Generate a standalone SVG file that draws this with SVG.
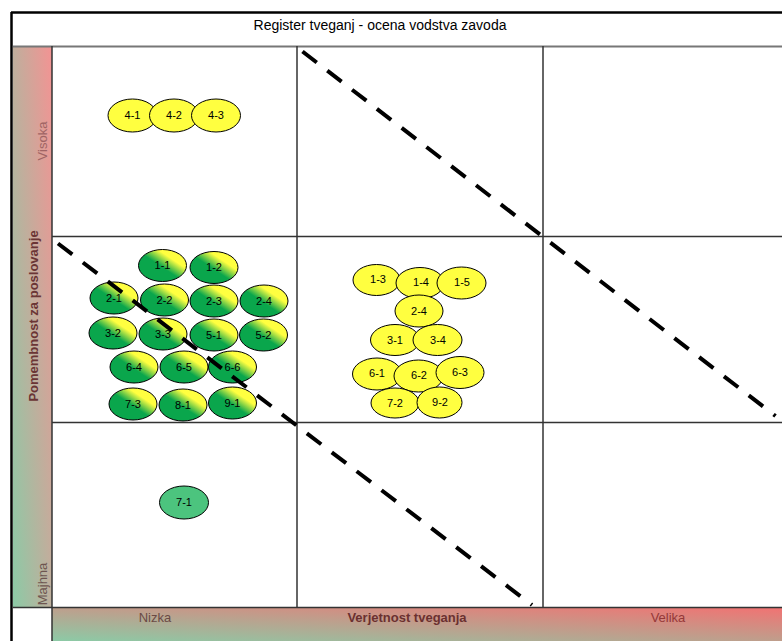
<svg xmlns="http://www.w3.org/2000/svg" width="782" height="641" viewBox="0 0 782 641">
<defs>
<linearGradient id="gLeft" x1="0" y1="1" x2="1" y2="0"><stop offset="0" stop-color="#8ccaa6"/><stop offset="1" stop-color="#f39393"/></linearGradient>
<linearGradient id="gBot" x1="0" y1="1" x2="1" y2="0"><stop offset="0" stop-color="#8ccaa6"/><stop offset="1" stop-color="#f27272"/></linearGradient>
<linearGradient id="gNode" x1="0" y1="1" x2="1" y2="0"><stop offset="0" stop-color="#0aa64c"/><stop offset="0.47" stop-color="#0aa64c"/><stop offset="0.7" stop-color="#ffff40"/><stop offset="1" stop-color="#ffff40"/></linearGradient>
</defs>
<style>
text{font-family:"Liberation Sans",Arial,sans-serif;}
.lbl{font-size:11px;fill:#000;text-anchor:middle;}
.y{fill:#ffff40;stroke:#000;stroke-width:1;}
.g{fill:url(#gNode);stroke:#000;stroke-width:1;}
.lg{fill:#4cc47e;stroke:#000;stroke-width:1;}
.grid{stroke:#333;stroke-width:1.5;fill:none;}
.dash{stroke:#000;stroke-width:4;stroke-dasharray:18 13.3;fill:none;}
.ax{font-size:13px;text-anchor:middle;}
</style>
<rect x="0" y="0" width="782" height="641" fill="#fff"/>
<g id="frame">
<rect x="13" y="46" width="39" height="561" fill="url(#gLeft)"/>
<rect x="52" y="607" width="730" height="34" fill="url(#gBot)"/>
<line x1="11" y1="12.5" x2="782" y2="12.5" stroke="#000" stroke-width="2.5"/>
<line x1="11.5" y1="12" x2="11.5" y2="641" stroke="#000" stroke-width="2.5"/>
<line x1="13" y1="46.5" x2="782" y2="46.5" stroke="#777" stroke-width="2"/>
<line class="grid" x1="52" y1="46" x2="52" y2="641"/>
<line class="grid" x1="297" y1="46" x2="297" y2="607"/>
<line class="grid" x1="543" y1="46" x2="543" y2="607"/>
<line class="grid" x1="52" y1="236.5" x2="782" y2="236.5"/>
<line class="grid" x1="52" y1="422.5" x2="782" y2="422.5"/>
<line class="grid" x1="13" y1="607.5" x2="782" y2="607.5"/>
<text x="380" y="30" style="font-size:14px;text-anchor:middle;fill:#000">Register tveganj - ocena vodstva zavoda</text>
<text class="ax" transform="translate(47,141) rotate(-90)" fill="#a06464">Visoka</text>
<text class="ax" transform="translate(38,316) rotate(-90)" fill="#6b3535" font-weight="bold">Pomembnost za poslovanje</text>
<text class="ax" transform="translate(47,584) rotate(-90)" fill="#6e5550">Majhna</text>
<text class="ax" x="155" y="622" fill="#6b4a45">Nizka</text>
<text class="ax" x="407" y="622" fill="#6b3030" font-weight="bold">Verjetnost tveganja</text>
<text class="ax" x="668" y="622" fill="#953838">Velika</text>
</g>
<g id="n4-1"><ellipse class="y" cx="132.5" cy="115.5" rx="24.5" ry="16.5"/><text class="lbl" x="132.5" y="119">4-1</text></g>
<g id="n4-2"><ellipse class="y" cx="174" cy="115.5" rx="24.5" ry="16.5"/><text class="lbl" x="174" y="119">4-2</text></g>
<g id="n4-3"><ellipse class="y" cx="216" cy="115.5" rx="24.5" ry="16.5"/><text class="lbl" x="216" y="119">4-3</text></g>
<g id="n1-1"><ellipse class="g" cx="162.5" cy="265.5" rx="24" ry="16"/><text class="lbl" x="162.5" y="269">1-1</text></g>
<g id="n1-2"><ellipse class="g" cx="214" cy="267.5" rx="24" ry="16"/><text class="lbl" x="214" y="271">1-2</text></g>
<g id="n2-1"><ellipse class="g" cx="114" cy="298" rx="24" ry="16"/><text class="lbl" x="114" y="301.5">2-1</text></g>
<g id="n2-2"><ellipse class="g" cx="164.5" cy="300" rx="24" ry="16"/><text class="lbl" x="164.5" y="303.5">2-2</text></g>
<g id="n2-3"><ellipse class="g" cx="214" cy="301" rx="24" ry="16"/><text class="lbl" x="214" y="304.5">2-3</text></g>
<g id="n2-4"><ellipse class="g" cx="264" cy="301" rx="24" ry="16"/><text class="lbl" x="264" y="304.5">2-4</text></g>
<g id="n3-2"><ellipse class="g" cx="113" cy="333" rx="24" ry="16"/><text class="lbl" x="113" y="336.5">3-2</text></g>
<g id="n3-3"><ellipse class="g" cx="163" cy="334" rx="24" ry="16"/><text class="lbl" x="163" y="337.5">3-3</text></g>
<g id="n5-1"><ellipse class="g" cx="214" cy="335" rx="24" ry="16"/><text class="lbl" x="214" y="338.5">5-1</text></g>
<g id="n5-2"><ellipse class="g" cx="263.5" cy="335" rx="24" ry="16"/><text class="lbl" x="263.5" y="338.5">5-2</text></g>
<g id="n6-4"><ellipse class="g" cx="134" cy="367" rx="24" ry="16"/><text class="lbl" x="134" y="370.5">6-4</text></g>
<g id="n6-5"><ellipse class="g" cx="184" cy="367" rx="24" ry="16"/><text class="lbl" x="184" y="370.5">6-5</text></g>
<g id="n6-6"><ellipse class="g" cx="232.5" cy="367" rx="24" ry="16"/><text class="lbl" x="232.5" y="370.5">6-6</text></g>
<g id="n7-3"><ellipse class="g" cx="133" cy="404" rx="24" ry="16"/><text class="lbl" x="133" y="407.5">7-3</text></g>
<g id="n8-1"><ellipse class="g" cx="183" cy="405" rx="24" ry="16"/><text class="lbl" x="183" y="408.5">8-1</text></g>
<g id="n9-1"><ellipse class="g" cx="232.5" cy="403" rx="24" ry="16"/><text class="lbl" x="232.5" y="406.5">9-1</text></g>
<g id="n1-3"><ellipse class="y" cx="376.5" cy="280" rx="23.5" ry="15.5"/><text class="lbl" x="378" y="283">1-3</text></g>
<g id="n1-4"><ellipse class="y" cx="420" cy="283" rx="24" ry="15.5"/><text class="lbl" x="421" y="286">1-4</text></g>
<g id="n1-5"><ellipse class="y" cx="461.5" cy="283" rx="24.5" ry="16"/><text class="lbl" x="462" y="286">1-5</text></g>
<g id="n2-4b"><ellipse class="y" cx="419" cy="311" rx="24" ry="16"/><text class="lbl" x="419" y="314.5">2-4</text></g>
<g id="n3-1"><ellipse class="y" cx="395" cy="340" rx="24.5" ry="15.5"/><text class="lbl" x="395" y="343.5">3-1</text></g>
<g id="n3-4"><ellipse class="y" cx="437.5" cy="340" rx="24.5" ry="15.5"/><text class="lbl" x="438" y="343.5">3-4</text></g>
<g id="n6-1"><ellipse class="y" cx="377" cy="374" rx="24.5" ry="16"/><text class="lbl" x="377" y="377">6-1</text></g>
<g id="n6-2"><ellipse class="y" cx="418.5" cy="376" rx="24.5" ry="16"/><text class="lbl" x="419" y="379">6-2</text></g>
<g id="n6-3"><ellipse class="y" cx="460" cy="372.5" rx="24" ry="16"/><text class="lbl" x="460" y="375.5">6-3</text></g>
<g id="n7-2"><ellipse class="y" cx="395" cy="403" rx="24" ry="15"/><text class="lbl" x="395" y="407">7-2</text></g>
<g id="n9-2"><ellipse class="y" cx="439.5" cy="402.5" rx="22.5" ry="15.5"/><text class="lbl" x="440" y="406">9-2</text></g>
<g id="n7-1"><ellipse class="lg" cx="184" cy="502.5" rx="24.5" ry="16.5"/><text class="lbl" x="184" y="506">7-1</text></g>
<g id="connectors">
<line class="dash" x1="302.5" y1="51.5" x2="775.5" y2="416"/>
<line class="dash" x1="58" y1="243.5" x2="532" y2="605"/>
</g>
</svg>
